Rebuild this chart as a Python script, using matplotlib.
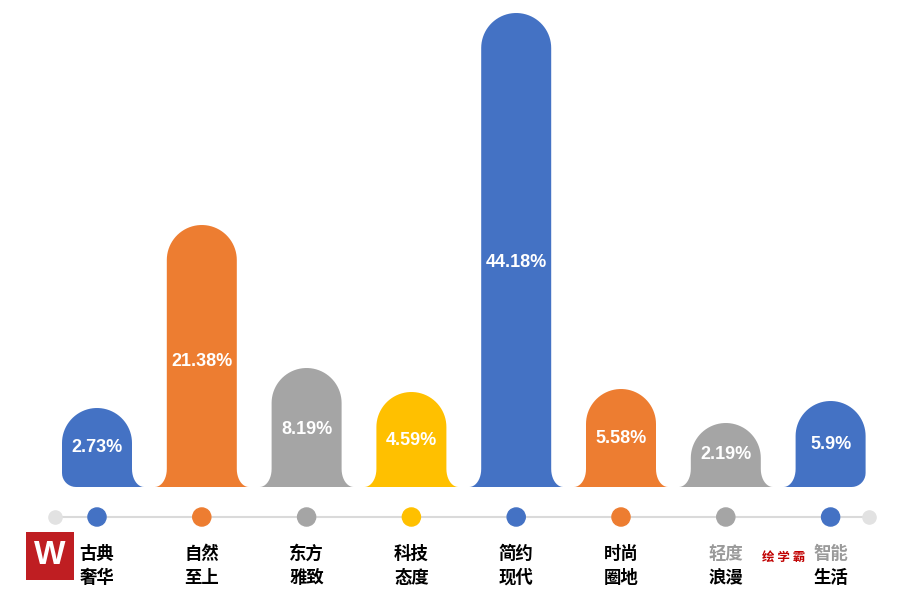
import numpy as np
import matplotlib
matplotlib.use("Agg")
import matplotlib.pyplot as plt
from matplotlib.path import Path
from matplotlib.patches import PathPatch, Rectangle

plt.rcParams['font.family'] = ['Noto Sans CJK SC', 'DejaVu Sans']

# data
labels_top = ["古典", "自然", "东方", "科技", "简约", "时尚", "轻度", "智能"]
labels_bot = ["奢华", "至上", "雅致", "态度", "现代", "圈地", "浪漫", "生活"]
values = [2.73, 21.38, 8.19, 4.59, 44.18, 5.58, 2.19, 5.9]
# drawn heights of the bubbles (not proportional to the values in the original)
heights = [79, 262, 119, 95, 474, 98, 64, 86]
colors = ["#4472C4", "#ED7D31", "#A5A5A5", "#FFC000",
          "#4472C4", "#ED7D31", "#A5A5A5", "#4472C4"]
top_colors = ["black"] * 6 + ["#9A9A9A", "#9A9A9A"]

W, H = 917, 600
step = 104.8   # px between categories
x0 = 97        # px of first category
base = 487     # px of the bar bottom

fig = plt.figure(figsize=(W / 100, H / 100), dpi=100)
ax = fig.add_axes([0, 0, 1, 1])
ax.set_xlim(-x0 / step, (W - x0) / step)
ax.set_ylim(-(H - base), base)
ax.axis("off")


def bubble(cx, h, left_flare=True, right_flare=True):
    # shape in px, x converted to category units
    w = 35.0
    fx, fy = 12.0, 18.0
    rc = 14.0
    pts = []
    # right side bottom
    if right_flare:
        pts.append((w + fx, 0))
        t = np.linspace(-np.pi / 2, -np.pi, 12)
        pts += [(w + fx + fx * np.cos(a), fy + fy * np.sin(a)) for a in t]
    else:
        t = np.linspace(-np.pi / 2, 0, 10)
        pts += [(w - rc + rc * np.cos(a), rc + rc * np.sin(a)) for a in t]
    # top semicircle
    t = np.linspace(0, np.pi, 40)
    pts += [(w * np.cos(a), h - w + w * np.sin(a)) for a in t]
    # left side bottom
    if left_flare:
        t = np.linspace(0, -np.pi / 2, 12)
        pts += [(-w - fx + fx * np.cos(a), fy + fy * np.sin(a)) for a in t]
    else:
        t = np.linspace(np.pi, 1.5 * np.pi, 10)
        pts += [(-w + rc + rc * np.cos(a), rc + rc * np.sin(a)) for a in t]
    pts = np.array(pts)
    pts[:, 0] = cx + pts[:, 0] / step
    return Path(np.vstack([pts, pts[:1]]), closed=True)


n = len(values)
for i in range(n):
    p = bubble(i, heights[i], left_flare=(i != 0), right_flare=(i != n - 1))
    ax.add_patch(PathPatch(p, facecolor=colors[i], edgecolor="none"))
    ax.text(i, heights[i] * 0.47 + 2, f"{values[i]}%", color="white",
            fontsize=13, fontweight="bold", family="Liberation Sans",
            ha="center", va="center")

# timeline with dots
line_y = -30
ax.plot([-0.4, n - 1 + 0.37], [line_y, line_y], color="#DADADA", lw=1.5, zorder=1)
ax.scatter([-0.4, n - 1 + 0.37], [line_y, line_y], s=90, color="#E2E2E2", zorder=2)
ax.scatter(range(n), [line_y] * n, s=170, color=colors, zorder=3)

for i in range(n):
    ax.text(i, -67, labels_top[i], ha="center", va="center", fontsize=12.5,
            fontweight="bold", color=top_colors[i])
    ax.text(i, -91, labels_bot[i], ha="center", va="center", fontsize=12.5,
            fontweight="bold", color="black")

# watermark
ax.text(6.55, -70, "绘 学 霸", ha="center", va="center", fontsize=9,
        fontweight="bold", color="#C00000")
fig.patches.append(Rectangle((26 / W, (H - 580) / H), 48 / W, 48 / H,
                             transform=fig.transFigure, facecolor="#BF1E22",
                             edgecolor="none"))
fig.text(50 / W, (H - 556) / H, "W", color="white", fontsize=24,
         fontweight="bold", family="Liberation Sans", ha="center", va="center")

fig.savefig("out.png", dpi=100, facecolor="white")
